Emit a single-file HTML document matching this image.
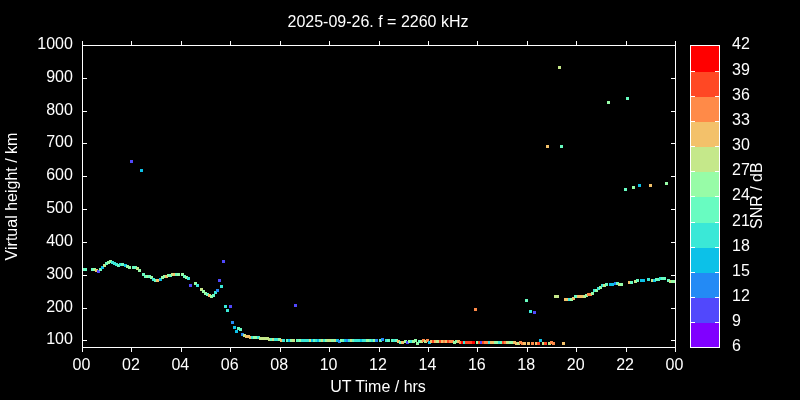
<!DOCTYPE html>
<html><head><meta charset="utf-8"><title>plot</title>
<style>html,body{margin:0;padding:0;background:#000;}svg{display:block}text{font-family:"Liberation Sans",Arial,sans-serif;font-size:16px;fill:#fff}</style></head>
<body>
<svg width="800" height="400" viewBox="0 0 800 400">
<rect width="800" height="400" fill="#000"/>
<g shape-rendering="crispEdges">
<rect x="82" y="268" width="3" height="3" fill="#68fcc1"/>
<rect x="84" y="268" width="3" height="3" fill="#68fcc1"/>
<rect x="91" y="268" width="3" height="3" fill="#68fcc1"/>
<rect x="93" y="268" width="3" height="3" fill="#97fca7"/>
<rect x="95" y="269" width="3" height="3" fill="#f3c16a"/>
<rect x="97" y="270" width="3" height="3" fill="#5148fc"/>
<rect x="99" y="268" width="3" height="3" fill="#68fcc1"/>
<rect x="101" y="266" width="3" height="3" fill="#0cc1e8"/>
<rect x="103" y="264" width="3" height="3" fill="#c5e88a"/>
<rect x="105" y="262" width="3" height="3" fill="#68fcc1"/>
<rect x="107" y="261" width="3" height="3" fill="#97fca7"/>
<rect x="109" y="260" width="3" height="3" fill="#97fca7"/>
<rect x="111" y="261" width="3" height="3" fill="#3ae8d7"/>
<rect x="113" y="262" width="3" height="3" fill="#3ae8d7"/>
<rect x="115" y="263" width="3" height="3" fill="#3ae8d7"/>
<rect x="117" y="264" width="3" height="3" fill="#68fcc1"/>
<rect x="119" y="263" width="3" height="3" fill="#3ae8d7"/>
<rect x="121" y="263" width="3" height="3" fill="#68fcc1"/>
<rect x="124" y="264" width="3" height="3" fill="#0cc1e8"/>
<rect x="126" y="265" width="3" height="3" fill="#97fca7"/>
<rect x="128" y="266" width="3" height="3" fill="#97fca7"/>
<rect x="130" y="160" width="3" height="3" fill="#5148fc"/>
<rect x="132" y="266" width="3" height="3" fill="#68fcc1"/>
<rect x="134" y="266" width="3" height="3" fill="#68fcc1"/>
<rect x="136" y="267" width="3" height="3" fill="#c5e88a"/>
<rect x="138" y="269" width="3" height="3" fill="#97fca7"/>
<rect x="140" y="169" width="3" height="3" fill="#0cc1e8"/>
<rect x="142" y="273" width="3" height="3" fill="#68fcc1"/>
<rect x="144" y="275" width="3" height="3" fill="#68fcc1"/>
<rect x="146" y="275" width="3" height="3" fill="#97fca7"/>
<rect x="148" y="275" width="3" height="3" fill="#68fcc1"/>
<rect x="150" y="276" width="3" height="3" fill="#97fca7"/>
<rect x="152" y="278" width="3" height="3" fill="#3ae8d7"/>
<rect x="154" y="279" width="3" height="3" fill="#68fcc1"/>
<rect x="156" y="279" width="3" height="3" fill="#f3c16a"/>
<rect x="159" y="278" width="3" height="3" fill="#0cc1e8"/>
<rect x="161" y="276" width="3" height="3" fill="#97fca7"/>
<rect x="163" y="275" width="3" height="3" fill="#97fca7"/>
<rect x="165" y="275" width="3" height="3" fill="#f3c16a"/>
<rect x="167" y="274" width="3" height="3" fill="#97fca7"/>
<rect x="169" y="274" width="3" height="3" fill="#68fcc1"/>
<rect x="171" y="273" width="3" height="3" fill="#c5e88a"/>
<rect x="173" y="273" width="3" height="3" fill="#f3c16a"/>
<rect x="175" y="273" width="3" height="3" fill="#68fcc1"/>
<rect x="177" y="273" width="3" height="3" fill="#97fca7"/>
<rect x="181" y="273" width="3" height="3" fill="#97fca7"/>
<rect x="183" y="275" width="3" height="3" fill="#68fcc1"/>
<rect x="185" y="276" width="3" height="3" fill="#97fca7"/>
<rect x="187" y="277" width="3" height="3" fill="#3ae8d7"/>
<rect x="189" y="284" width="3" height="3" fill="#5148fc"/>
<rect x="194" y="282" width="3" height="3" fill="#97fca7"/>
<rect x="196" y="284" width="3" height="3" fill="#3ae8d7"/>
<rect x="200" y="288" width="3" height="3" fill="#c5e88a"/>
<rect x="202" y="290" width="3" height="3" fill="#97fca7"/>
<rect x="204" y="292" width="3" height="3" fill="#97fca7"/>
<rect x="206" y="293" width="3" height="3" fill="#68fcc1"/>
<rect x="208" y="294" width="3" height="3" fill="#f3c16a"/>
<rect x="210" y="295" width="3" height="3" fill="#97fca7"/>
<rect x="212" y="294" width="3" height="3" fill="#68fcc1"/>
<rect x="214" y="291" width="3" height="3" fill="#3ae8d7"/>
<rect x="216" y="289" width="3" height="3" fill="#238af5"/>
<rect x="218" y="279" width="3" height="3" fill="#5148fc"/>
<rect x="220" y="285" width="3" height="3" fill="#3ae8d7"/>
<rect x="222" y="260" width="3" height="3" fill="#5148fc"/>
<rect x="224" y="305" width="3" height="3" fill="#3ae8d7"/>
<rect x="226" y="309" width="3" height="3" fill="#3ae8d7"/>
<rect x="229" y="305" width="3" height="3" fill="#5148fc"/>
<rect x="231" y="321" width="3" height="3" fill="#238af5"/>
<rect x="233" y="326" width="3" height="3" fill="#0cc1e8"/>
<rect x="235" y="330" width="3" height="3" fill="#0cc1e8"/>
<rect x="237" y="327" width="3" height="3" fill="#68fcc1"/>
<rect x="239" y="328" width="3" height="3" fill="#68fcc1"/>
<rect x="241" y="333" width="3" height="3" fill="#238af5"/>
<rect x="243" y="334" width="3" height="3" fill="#c5e88a"/>
<rect x="245" y="335" width="3" height="3" fill="#f3c16a"/>
<rect x="247" y="335" width="3" height="3" fill="#f3c16a"/>
<rect x="249" y="336" width="3" height="3" fill="#f3c16a"/>
<rect x="251" y="336" width="3" height="3" fill="#3ae8d7"/>
<rect x="253" y="336" width="3" height="3" fill="#97fca7"/>
<rect x="255" y="336" width="3" height="3" fill="#97fca7"/>
<rect x="257" y="336" width="3" height="3" fill="#3ae8d7"/>
<rect x="259" y="337" width="3" height="3" fill="#c5e88a"/>
<rect x="261" y="337" width="3" height="3" fill="#c5e88a"/>
<rect x="264" y="337" width="3" height="3" fill="#c5e88a"/>
<rect x="266" y="337" width="3" height="3" fill="#c5e88a"/>
<rect x="268" y="338" width="3" height="3" fill="#c5e88a"/>
<rect x="270" y="338" width="3" height="3" fill="#68fcc1"/>
<rect x="272" y="338" width="3" height="3" fill="#c5e88a"/>
<rect x="274" y="338" width="3" height="3" fill="#3ae8d7"/>
<rect x="276" y="338" width="3" height="3" fill="#3ae8d7"/>
<rect x="278" y="338" width="3" height="3" fill="#97fca7"/>
<rect x="280" y="339" width="3" height="3" fill="#f3c16a"/>
<rect x="282" y="339" width="3" height="3" fill="#3ae8d7"/>
<rect x="286" y="339" width="3" height="3" fill="#68fcc1"/>
<rect x="288" y="339" width="3" height="3" fill="#0cc1e8"/>
<rect x="290" y="339" width="3" height="3" fill="#97fca7"/>
<rect x="292" y="339" width="3" height="3" fill="#c5e88a"/>
<rect x="294" y="304" width="3" height="3" fill="#5148fc"/>
<rect x="296" y="339" width="3" height="3" fill="#68fcc1"/>
<rect x="299" y="339" width="3" height="3" fill="#97fca7"/>
<rect x="301" y="339" width="3" height="3" fill="#3ae8d7"/>
<rect x="303" y="339" width="3" height="3" fill="#3ae8d7"/>
<rect x="305" y="339" width="3" height="3" fill="#3ae8d7"/>
<rect x="307" y="339" width="3" height="3" fill="#3ae8d7"/>
<rect x="309" y="339" width="3" height="3" fill="#c5e88a"/>
<rect x="311" y="339" width="3" height="3" fill="#0cc1e8"/>
<rect x="313" y="339" width="3" height="3" fill="#68fcc1"/>
<rect x="315" y="339" width="3" height="3" fill="#3ae8d7"/>
<rect x="317" y="339" width="3" height="3" fill="#0cc1e8"/>
<rect x="319" y="339" width="3" height="3" fill="#68fcc1"/>
<rect x="321" y="339" width="3" height="3" fill="#c5e88a"/>
<rect x="323" y="339" width="3" height="3" fill="#3ae8d7"/>
<rect x="325" y="339" width="3" height="3" fill="#97fca7"/>
<rect x="327" y="339" width="3" height="3" fill="#c5e88a"/>
<rect x="329" y="339" width="3" height="3" fill="#c5e88a"/>
<rect x="331" y="339" width="3" height="3" fill="#97fca7"/>
<rect x="334" y="339" width="3" height="3" fill="#c5e88a"/>
<rect x="336" y="339" width="3" height="3" fill="#0cc1e8"/>
<rect x="338" y="340" width="3" height="3" fill="#238af5"/>
<rect x="340" y="339" width="3" height="3" fill="#97fca7"/>
<rect x="342" y="339" width="3" height="3" fill="#68fcc1"/>
<rect x="344" y="339" width="3" height="3" fill="#0cc1e8"/>
<rect x="346" y="339" width="3" height="3" fill="#238af5"/>
<rect x="348" y="339" width="3" height="3" fill="#3ae8d7"/>
<rect x="350" y="339" width="3" height="3" fill="#c5e88a"/>
<rect x="352" y="339" width="3" height="3" fill="#68fcc1"/>
<rect x="354" y="339" width="3" height="3" fill="#3ae8d7"/>
<rect x="356" y="339" width="3" height="3" fill="#3ae8d7"/>
<rect x="358" y="339" width="3" height="3" fill="#3ae8d7"/>
<rect x="360" y="339" width="3" height="3" fill="#0cc1e8"/>
<rect x="362" y="339" width="3" height="3" fill="#3ae8d7"/>
<rect x="364" y="339" width="3" height="3" fill="#3ae8d7"/>
<rect x="366" y="339" width="3" height="3" fill="#97fca7"/>
<rect x="369" y="339" width="3" height="3" fill="#68fcc1"/>
<rect x="371" y="339" width="3" height="3" fill="#3ae8d7"/>
<rect x="373" y="339" width="3" height="3" fill="#97fca7"/>
<rect x="375" y="339" width="3" height="3" fill="#238af5"/>
<rect x="379" y="339" width="3" height="3" fill="#68fcc1"/>
<rect x="381" y="338" width="3" height="3" fill="#238af5"/>
<rect x="385" y="339" width="3" height="3" fill="#3ae8d7"/>
<rect x="387" y="339" width="3" height="3" fill="#68fcc1"/>
<rect x="391" y="339" width="3" height="3" fill="#68fcc1"/>
<rect x="393" y="339" width="3" height="3" fill="#3ae8d7"/>
<rect x="395" y="339" width="3" height="3" fill="#68fcc1"/>
<rect x="397" y="340" width="3" height="3" fill="#f3c16a"/>
<rect x="399" y="341" width="3" height="3" fill="#68fcc1"/>
<rect x="401" y="341" width="3" height="3" fill="#f3c16a"/>
<rect x="404" y="340" width="3" height="3" fill="#97fca7"/>
<rect x="406" y="341" width="3" height="3" fill="#5148fc"/>
<rect x="408" y="340" width="3" height="3" fill="#97fca7"/>
<rect x="410" y="340" width="3" height="3" fill="#3ae8d7"/>
<rect x="412" y="340" width="3" height="3" fill="#97fca7"/>
<rect x="414" y="339" width="3" height="3" fill="#97fca7"/>
<rect x="416" y="342" width="3" height="3" fill="#97fca7"/>
<rect x="418" y="340" width="3" height="3" fill="#68fcc1"/>
<rect x="420" y="340" width="3" height="3" fill="#c5e88a"/>
<rect x="422" y="339" width="3" height="3" fill="#ff8a48"/>
<rect x="424" y="340" width="3" height="3" fill="#c5e88a"/>
<rect x="426" y="339" width="3" height="3" fill="#ff8a48"/>
<rect x="428" y="341" width="3" height="3" fill="#0cc1e8"/>
<rect x="430" y="340" width="3" height="3" fill="#f3c16a"/>
<rect x="432" y="340" width="3" height="3" fill="#ff4824"/>
<rect x="434" y="340" width="3" height="3" fill="#f3c16a"/>
<rect x="436" y="340" width="3" height="3" fill="#c5e88a"/>
<rect x="439" y="340" width="3" height="3" fill="#ff4824"/>
<rect x="441" y="340" width="3" height="3" fill="#f3c16a"/>
<rect x="443" y="340" width="3" height="3" fill="#ff8a48"/>
<rect x="445" y="340" width="3" height="3" fill="#f3c16a"/>
<rect x="447" y="340" width="3" height="3" fill="#ff4824"/>
<rect x="449" y="340" width="3" height="3" fill="#ff8a48"/>
<rect x="451" y="340" width="3" height="3" fill="#ff8a48"/>
<rect x="453" y="341" width="3" height="3" fill="#97fca7"/>
<rect x="455" y="340" width="3" height="3" fill="#97fca7"/>
<rect x="457" y="340" width="3" height="3" fill="#f3c16a"/>
<rect x="459" y="341" width="3" height="3" fill="#ff8a48"/>
<rect x="461" y="341" width="3" height="3" fill="#ff0000"/>
<rect x="463" y="341" width="3" height="3" fill="#3ae8d7"/>
<rect x="465" y="341" width="3" height="3" fill="#ff4824"/>
<rect x="467" y="341" width="3" height="3" fill="#ff4824"/>
<rect x="469" y="341" width="3" height="3" fill="#ff4824"/>
<rect x="472" y="341" width="3" height="3" fill="#ff0000"/>
<rect x="474" y="308" width="3" height="3" fill="#ff8a48"/>
<rect x="476" y="341" width="3" height="3" fill="#97fca7"/>
<rect x="478" y="341" width="3" height="3" fill="#ff4824"/>
<rect x="480" y="341" width="3" height="3" fill="#5148fc"/>
<rect x="482" y="341" width="3" height="3" fill="#ff4824"/>
<rect x="484" y="341" width="3" height="3" fill="#ff8a48"/>
<rect x="486" y="341" width="3" height="3" fill="#ff8a48"/>
<rect x="488" y="341" width="3" height="3" fill="#3ae8d7"/>
<rect x="490" y="341" width="3" height="3" fill="#f3c16a"/>
<rect x="492" y="341" width="3" height="3" fill="#f3c16a"/>
<rect x="494" y="341" width="3" height="3" fill="#97fca7"/>
<rect x="496" y="341" width="3" height="3" fill="#97fca7"/>
<rect x="498" y="341" width="3" height="3" fill="#3ae8d7"/>
<rect x="500" y="341" width="3" height="3" fill="#68fcc1"/>
<rect x="502" y="341" width="3" height="3" fill="#ff4824"/>
<rect x="504" y="341" width="3" height="3" fill="#ff8a48"/>
<rect x="506" y="341" width="3" height="3" fill="#c5e88a"/>
<rect x="509" y="341" width="3" height="3" fill="#97fca7"/>
<rect x="511" y="341" width="3" height="3" fill="#97fca7"/>
<rect x="513" y="341" width="3" height="3" fill="#f3c16a"/>
<rect x="515" y="342" width="3" height="3" fill="#f3c16a"/>
<rect x="517" y="342" width="3" height="3" fill="#c5e88a"/>
<rect x="519" y="341" width="3" height="3" fill="#ff8a48"/>
<rect x="521" y="342" width="3" height="3" fill="#ff8a48"/>
<rect x="523" y="342" width="3" height="3" fill="#f3c16a"/>
<rect x="525" y="299" width="3" height="3" fill="#68fcc1"/>
<rect x="527" y="342" width="3" height="3" fill="#f3c16a"/>
<rect x="529" y="310" width="3" height="3" fill="#3ae8d7"/>
<rect x="531" y="342" width="3" height="3" fill="#ff8a48"/>
<rect x="533" y="311" width="3" height="3" fill="#5148fc"/>
<rect x="535" y="342" width="3" height="3" fill="#f3c16a"/>
<rect x="537" y="342" width="3" height="3" fill="#ff4824"/>
<rect x="539" y="339" width="3" height="3" fill="#0cc1e8"/>
<rect x="542" y="342" width="3" height="3" fill="#c5e88a"/>
<rect x="544" y="342" width="3" height="3" fill="#ff4824"/>
<rect x="546" y="145" width="3" height="3" fill="#f3c16a"/>
<rect x="548" y="342" width="3" height="3" fill="#c5e88a"/>
<rect x="550" y="341" width="3" height="3" fill="#ff8a48"/>
<rect x="552" y="342" width="3" height="3" fill="#ff8a48"/>
<rect x="554" y="295" width="3" height="3" fill="#c5e88a"/>
<rect x="556" y="295" width="3" height="3" fill="#c5e88a"/>
<rect x="558" y="66" width="3" height="3" fill="#c5e88a"/>
<rect x="560" y="145" width="3" height="3" fill="#68fcc1"/>
<rect x="562" y="342" width="3" height="3" fill="#f3c16a"/>
<rect x="564" y="298" width="3" height="3" fill="#f3c16a"/>
<rect x="566" y="298" width="3" height="3" fill="#f3c16a"/>
<rect x="568" y="298" width="3" height="3" fill="#3ae8d7"/>
<rect x="570" y="298" width="3" height="3" fill="#97fca7"/>
<rect x="572" y="297" width="3" height="3" fill="#f3c16a"/>
<rect x="574" y="295" width="3" height="3" fill="#68fcc1"/>
<rect x="577" y="295" width="3" height="3" fill="#f3c16a"/>
<rect x="579" y="295" width="3" height="3" fill="#f3c16a"/>
<rect x="581" y="295" width="3" height="3" fill="#f3c16a"/>
<rect x="583" y="295" width="3" height="3" fill="#c5e88a"/>
<rect x="585" y="294" width="3" height="3" fill="#97fca7"/>
<rect x="587" y="293" width="3" height="3" fill="#ff8a48"/>
<rect x="589" y="293" width="3" height="3" fill="#ff8a48"/>
<rect x="591" y="292" width="3" height="3" fill="#97fca7"/>
<rect x="593" y="289" width="3" height="3" fill="#3ae8d7"/>
<rect x="595" y="289" width="3" height="3" fill="#97fca7"/>
<rect x="597" y="287" width="3" height="3" fill="#3ae8d7"/>
<rect x="599" y="286" width="3" height="3" fill="#97fca7"/>
<rect x="601" y="284" width="3" height="3" fill="#3ae8d7"/>
<rect x="603" y="284" width="3" height="3" fill="#c5e88a"/>
<rect x="605" y="283" width="3" height="3" fill="#68fcc1"/>
<rect x="607" y="101" width="3" height="3" fill="#97fca7"/>
<rect x="609" y="283" width="3" height="3" fill="#0cc1e8"/>
<rect x="611" y="283" width="3" height="3" fill="#0cc1e8"/>
<rect x="614" y="282" width="3" height="3" fill="#238af5"/>
<rect x="616" y="282" width="3" height="3" fill="#68fcc1"/>
<rect x="618" y="283" width="3" height="3" fill="#c5e88a"/>
<rect x="620" y="283" width="3" height="3" fill="#97fca7"/>
<rect x="624" y="188" width="3" height="3" fill="#68fcc1"/>
<rect x="626" y="97" width="3" height="3" fill="#68fcc1"/>
<rect x="628" y="281" width="3" height="3" fill="#f3c16a"/>
<rect x="630" y="281" width="3" height="3" fill="#68fcc1"/>
<rect x="632" y="186" width="3" height="3" fill="#97fca7"/>
<rect x="634" y="280" width="3" height="3" fill="#c5e88a"/>
<rect x="636" y="279" width="3" height="3" fill="#68fcc1"/>
<rect x="638" y="184" width="3" height="3" fill="#0cc1e8"/>
<rect x="640" y="279" width="3" height="3" fill="#0cc1e8"/>
<rect x="642" y="279" width="3" height="3" fill="#0cc1e8"/>
<rect x="647" y="278" width="3" height="3" fill="#3ae8d7"/>
<rect x="649" y="184" width="3" height="3" fill="#f3c16a"/>
<rect x="651" y="279" width="3" height="3" fill="#c5e88a"/>
<rect x="653" y="279" width="3" height="3" fill="#0cc1e8"/>
<rect x="655" y="278" width="3" height="3" fill="#68fcc1"/>
<rect x="657" y="278" width="3" height="3" fill="#68fcc1"/>
<rect x="659" y="277" width="3" height="3" fill="#3ae8d7"/>
<rect x="661" y="277" width="3" height="3" fill="#68fcc1"/>
<rect x="663" y="277" width="3" height="3" fill="#68fcc1"/>
<rect x="665" y="182" width="3" height="3" fill="#97fca7"/>
<rect x="667" y="279" width="3" height="3" fill="#68fcc1"/>
<rect x="669" y="280" width="3" height="3" fill="#c5e88a"/>
<rect x="671" y="280" width="3" height="3" fill="#97fca7"/>
<rect x="673" y="280" width="3" height="3" fill="#97fca7"/>
</g>
<g stroke="#fff" stroke-width="1" fill="none" shape-rendering="crispEdges">
<rect x="82.5" y="45.5" width="593" height="302"/>
<line x1="82.5" y1="347.5" x2="82.5" y2="352"/><line x1="82.5" y1="45.5" x2="82.5" y2="41"/>
<line x1="131.5" y1="347.5" x2="131.5" y2="352"/><line x1="131.5" y1="45.5" x2="131.5" y2="41"/>
<line x1="181.5" y1="347.5" x2="181.5" y2="352"/><line x1="181.5" y1="45.5" x2="181.5" y2="41"/>
<line x1="230.5" y1="347.5" x2="230.5" y2="352"/><line x1="230.5" y1="45.5" x2="230.5" y2="41"/>
<line x1="280.5" y1="347.5" x2="280.5" y2="352"/><line x1="280.5" y1="45.5" x2="280.5" y2="41"/>
<line x1="329.5" y1="347.5" x2="329.5" y2="352"/><line x1="329.5" y1="45.5" x2="329.5" y2="41"/>
<line x1="379.5" y1="347.5" x2="379.5" y2="352"/><line x1="379.5" y1="45.5" x2="379.5" y2="41"/>
<line x1="428.5" y1="347.5" x2="428.5" y2="352"/><line x1="428.5" y1="45.5" x2="428.5" y2="41"/>
<line x1="477.5" y1="347.5" x2="477.5" y2="352"/><line x1="477.5" y1="45.5" x2="477.5" y2="41"/>
<line x1="527.5" y1="347.5" x2="527.5" y2="352"/><line x1="527.5" y1="45.5" x2="527.5" y2="41"/>
<line x1="576.5" y1="347.5" x2="576.5" y2="352"/><line x1="576.5" y1="45.5" x2="576.5" y2="41"/>
<line x1="626.5" y1="347.5" x2="626.5" y2="352"/><line x1="626.5" y1="45.5" x2="626.5" y2="41"/>
<line x1="675.5" y1="347.5" x2="675.5" y2="352"/><line x1="675.5" y1="45.5" x2="675.5" y2="41"/>
<line x1="82.5" y1="340.5" x2="87" y2="340.5"/><line x1="675.5" y1="340.5" x2="671" y2="340.5"/>
<line x1="82.5" y1="308.5" x2="87" y2="308.5"/><line x1="675.5" y1="308.5" x2="671" y2="308.5"/>
<line x1="82.5" y1="275.5" x2="87" y2="275.5"/><line x1="675.5" y1="275.5" x2="671" y2="275.5"/>
<line x1="82.5" y1="242.5" x2="87" y2="242.5"/><line x1="675.5" y1="242.5" x2="671" y2="242.5"/>
<line x1="82.5" y1="209.5" x2="87" y2="209.5"/><line x1="675.5" y1="209.5" x2="671" y2="209.5"/>
<line x1="82.5" y1="176.5" x2="87" y2="176.5"/><line x1="675.5" y1="176.5" x2="671" y2="176.5"/>
<line x1="82.5" y1="143.5" x2="87" y2="143.5"/><line x1="675.5" y1="143.5" x2="671" y2="143.5"/>
<line x1="82.5" y1="111.5" x2="87" y2="111.5"/><line x1="675.5" y1="111.5" x2="671" y2="111.5"/>
<line x1="82.5" y1="78.5" x2="87" y2="78.5"/><line x1="675.5" y1="78.5" x2="671" y2="78.5"/>
<line x1="82.5" y1="45.5" x2="87" y2="45.5"/><line x1="675.5" y1="45.5" x2="671" y2="45.5"/>
</g>
<text x="81.5" y="370" text-anchor="middle">00</text>
<text x="130.917" y="370" text-anchor="middle">02</text>
<text x="180.333" y="370" text-anchor="middle">04</text>
<text x="229.75" y="370" text-anchor="middle">06</text>
<text x="279.167" y="370" text-anchor="middle">08</text>
<text x="328.583" y="370" text-anchor="middle">10</text>
<text x="378" y="370" text-anchor="middle">12</text>
<text x="427.417" y="370" text-anchor="middle">14</text>
<text x="476.833" y="370" text-anchor="middle">16</text>
<text x="526.25" y="370" text-anchor="middle">18</text>
<text x="575.667" y="370" text-anchor="middle">20</text>
<text x="625.083" y="370" text-anchor="middle">22</text>
<text x="674.5" y="370" text-anchor="middle">00</text>
<text x="72.9" y="343.5" text-anchor="end">100</text>
<text x="72.9" y="311.5" text-anchor="end">200</text>
<text x="72.9" y="278.5" text-anchor="end">300</text>
<text x="72.9" y="245.5" text-anchor="end">400</text>
<text x="72.9" y="212.5" text-anchor="end">500</text>
<text x="72.9" y="179.5" text-anchor="end">600</text>
<text x="72.9" y="146.5" text-anchor="end">700</text>
<text x="72.9" y="114.5" text-anchor="end">800</text>
<text x="72.9" y="81.5" text-anchor="end">900</text>
<text x="72.9" y="48.5" text-anchor="end">1000</text>
<text x="378" y="27" text-anchor="middle">2025-09-26. f = 2260 kHz</text>
<text x="378" y="392" text-anchor="middle">UT Time / hrs</text>
<text transform="translate(17,196.5) rotate(-90)" text-anchor="middle">Virtual height / km</text>
<g shape-rendering="crispEdges">
<rect x="690.5" y="322.5" width="29" height="25" fill="#8000ff"/>
<rect x="690.5" y="297.5" width="29" height="25" fill="#5148fc"/>
<rect x="690.5" y="272.5" width="29" height="25" fill="#238af5"/>
<rect x="690.5" y="247.5" width="29" height="25" fill="#0cc1e8"/>
<rect x="690.5" y="222.5" width="29" height="25" fill="#3ae8d7"/>
<rect x="690.5" y="196.5" width="29" height="26" fill="#68fcc1"/>
<rect x="690.5" y="171.5" width="29" height="25" fill="#97fca7"/>
<rect x="690.5" y="146.5" width="29" height="25" fill="#c5e88a"/>
<rect x="690.5" y="121.5" width="29" height="25" fill="#f3c16a"/>
<rect x="690.5" y="96.5" width="29" height="25" fill="#ff8a48"/>
<rect x="690.5" y="71.5" width="29" height="25" fill="#ff4824"/>
<rect x="690.5" y="45.5" width="29" height="26" fill="#ff0000"/>
</g>
<g stroke="#fff" stroke-width="1" fill="none" shape-rendering="crispEdges">
<rect x="690.5" y="45.5" width="29" height="302"/>
<line x1="690.5" y1="347.5" x2="695" y2="347.5"/><line x1="719.5" y1="347.5" x2="715" y2="347.5"/>
<line x1="690.5" y1="322.5" x2="695" y2="322.5"/><line x1="719.5" y1="322.5" x2="715" y2="322.5"/>
<line x1="690.5" y1="297.5" x2="695" y2="297.5"/><line x1="719.5" y1="297.5" x2="715" y2="297.5"/>
<line x1="690.5" y1="272.5" x2="695" y2="272.5"/><line x1="719.5" y1="272.5" x2="715" y2="272.5"/>
<line x1="690.5" y1="247.5" x2="695" y2="247.5"/><line x1="719.5" y1="247.5" x2="715" y2="247.5"/>
<line x1="690.5" y1="222.5" x2="695" y2="222.5"/><line x1="719.5" y1="222.5" x2="715" y2="222.5"/>
<line x1="690.5" y1="196.5" x2="695" y2="196.5"/><line x1="719.5" y1="196.5" x2="715" y2="196.5"/>
<line x1="690.5" y1="171.5" x2="695" y2="171.5"/><line x1="719.5" y1="171.5" x2="715" y2="171.5"/>
<line x1="690.5" y1="146.5" x2="695" y2="146.5"/><line x1="719.5" y1="146.5" x2="715" y2="146.5"/>
<line x1="690.5" y1="121.5" x2="695" y2="121.5"/><line x1="719.5" y1="121.5" x2="715" y2="121.5"/>
<line x1="690.5" y1="96.5" x2="695" y2="96.5"/><line x1="719.5" y1="96.5" x2="715" y2="96.5"/>
<line x1="690.5" y1="71.5" x2="695" y2="71.5"/><line x1="719.5" y1="71.5" x2="715" y2="71.5"/>
<line x1="690.5" y1="45.5" x2="695" y2="45.5"/><line x1="719.5" y1="45.5" x2="715" y2="45.5"/>
</g>
<text x="732" y="351">6</text>
<text x="732" y="326">9</text>
<text x="732" y="301">12</text>
<text x="732" y="276">15</text>
<text x="732" y="251">18</text>
<text x="732" y="226">21</text>
<text x="732" y="200">24</text>
<text x="732" y="175">27</text>
<text x="732" y="150">30</text>
<text x="732" y="125">33</text>
<text x="732" y="100">36</text>
<text x="732" y="75">39</text>
<text x="732" y="49">42</text>
<text transform="translate(762.4,195.7) rotate(-90)" text-anchor="middle">SNR / dB</text>
</svg>
</body></html>
